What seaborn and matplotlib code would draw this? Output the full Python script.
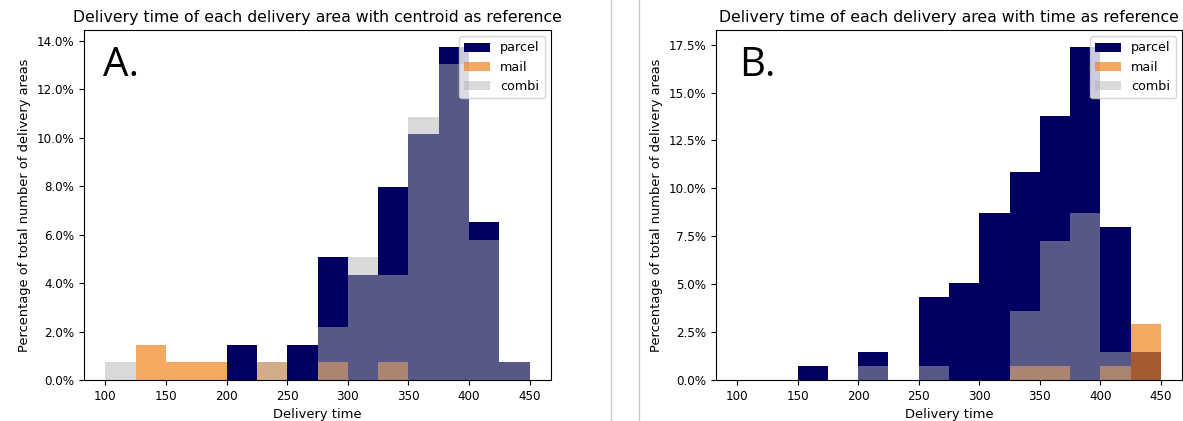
import pandas as pd
import seaborn as sns
import matplotlib.pyplot as plt
from matplotlib.ticker import PercentFormatter
from matplotlib.lines import Line2D

# bins of delivery time (edges), width 25
bin_edges = [100, 125, 150, 175, 200, 225, 250, 275, 300, 325, 350, 375, 400, 425, 450]
n_areas = 138

# number of delivery areas per bin, centroid as reference (A)
parcel_a = [0, 0, 0, 0, 2, 0, 2, 7, 6, 11, 14, 19, 9, 1]
mail_a = [0, 2, 1, 1, 0, 1, 0, 1, 0, 1, 0, 0, 0, 0]
combi_a = [1, 0, 0, 0, 0, 1, 0, 3, 7, 6, 15, 18, 8, 1]

# time as reference (B)
parcel_b = [0, 0, 1, 0, 2, 0, 6, 7, 12, 15, 19, 24, 11, 2]
mail_b = [0, 0, 0, 0, 0, 0, 0, 0, 0, 1, 1, 0, 1, 4]
combi_b = [0, 0, 0, 0, 1, 0, 1, 0, 0, 5, 10, 12, 2, 0]

titles = ["Delivery time of each delivery area with centroid as reference",
          "Delivery time of each delivery area with time as reference"]
panel_tags = ["A.", "B."]

styles = {
    "parcel": dict(color="#000060", alpha=1.0),
    "mail": dict(color="#f0831d", alpha=0.69),
    "combi": dict(color="#b2b2b2", alpha=0.49),
}

centers = [e + 12.5 for e in bin_edges[:-1]]

fig = plt.figure(figsize=(11.83, 4.21), dpi=100)
ax_a = fig.add_axes([84 / 1183, 41 / 421, 467 / 1183, 350 / 421])
ax_b = fig.add_axes([716 / 1183, 41 / 421, 466 / 1183, 350 / 421])

panels = [
    (ax_a, {"parcel": parcel_a, "mail": mail_a, "combi": combi_a}),
    (ax_b, {"parcel": parcel_b, "mail": mail_b, "combi": combi_b}),
]

for i, (ax, series) in enumerate(panels):
    for name, counts in series.items():
        df = pd.DataFrame({"time": centers,
                           "pct": [c / n_areas * 100 for c in counts]})
        sns.histplot(data=df, x="time", weights="pct", bins=bin_edges, ax=ax,
                     linewidth=0, label=name, **styles[name])
    ax.set_title(titles[i], fontsize=11.3)
    ax.set_xlabel("Delivery time", fontsize=9.4)
    ax.set_ylabel("Percentage of total number of delivery areas", fontsize=9.4)
    ax.tick_params(labelsize=8.6)
    ax.yaxis.set_major_formatter(PercentFormatter(xmax=100, decimals=1))
    ax.set_xticks([100, 150, 200, 250, 300, 350, 400, 450])
    ax.legend(loc="upper right", fontsize=9.2)
    ax.text(0.04 if i == 0 else 0.05, 0.87, panel_tags[i], transform=ax.transAxes,
            fontsize=29, family="Open Sans", va="baseline", ha="left")

# divider lines from the side-by-side screenshot
for xpix in (611, 639):
    fig.add_artist(Line2D([xpix / 1183, xpix / 1183], [0, 1], color="#c8c8c8", lw=1))

fig.savefig("out.png", dpi=100)
